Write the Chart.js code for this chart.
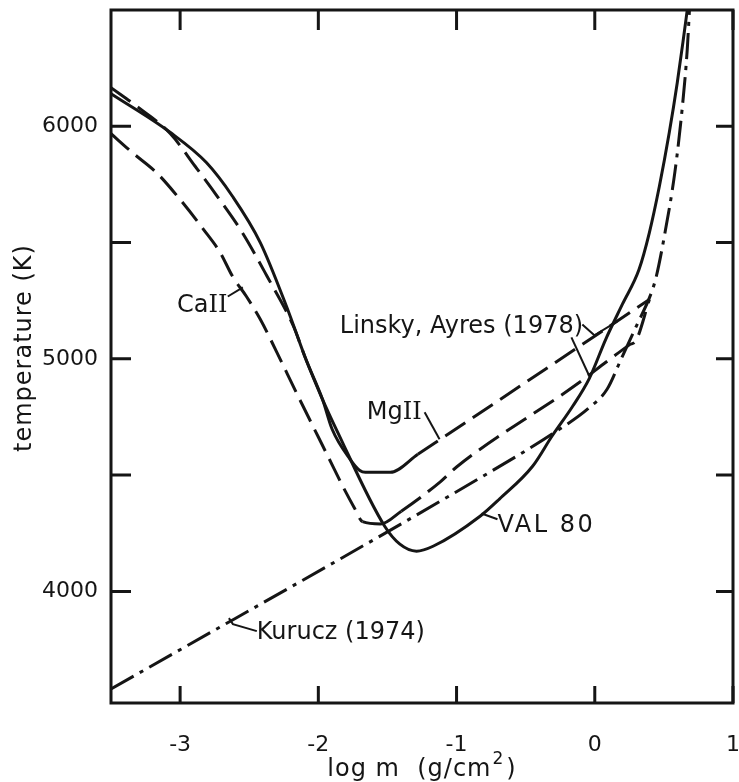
<!DOCTYPE html>
<html>
<head>
<meta charset="utf-8">
<script src="https://cdn.jsdelivr.net/npm/chart.js@4/dist/chart.umd.min.js"></script>
<style>
  html, body { margin: 0; padding: 0; background: #fff; }
  #wrap { width: 739px; height: 782px; position: relative; }
</style>
</head>
<body>
<div id="wrap"><canvas id="tempChart"></canvas></div>
<script>
// temperature vs column mass, four atmosphere models

// VAL 80 (solid)
const valLogM = [-3.5, -3.07, -2.81, -2.62, -2.42, -2.23, -2.09, -1.97, -1.87, -1.52, -1.41, -1.29, -1.17, -0.83, -0.69, -0.45, -0.31, -0.16, -0.04, 0.08, 0.2, 0.32, 0.395, 0.467, 0.539, 0.597, 0.647, 0.669];
const valTemp = [6140, 5973, 5844, 5698, 5500, 5225, 4998, 4826, 4697, 4280, 4203, 4173, 4194, 4323, 4397, 4538, 4667, 4796, 4915, 5085, 5235, 5384, 5543, 5741, 5973, 6188, 6402, 6500];

// Mg II model (Linsky & Ayres 1978)
const mgLogM = [-3.5, -3.3, -3.07, -2.89, -2.73, -2.55, -2.37, -2.18, -2.09, -1.97, -1.9, -1.77, -1.7, -1.66, -1.48, -1.28, 0.395];
const mgTemp = [6166, 6080, 5968, 5827, 5698, 5543, 5354, 5140, 4998, 4826, 4697, 4568, 4520, 4512, 4512, 4590, 5255];

// Ca II model (Linsky & Ayres 1978)
const caLogM = [-3.5, -3.34, -3.17, -3.0, -2.83, -2.71, -2.62, -2.52, -2.42, -2.3, -2.16, -1.92, -1.82, -1.74, -1.68, -1.55, -1.4, -1.12, -1.0, -0.11, 0.08, 0.25, 0.3, 0.395];
const caTemp = [5968, 5884, 5800, 5685, 5556, 5457, 5354, 5268, 5170, 5028, 4856, 4568, 4448, 4360, 4300, 4290, 4345, 4470, 4535, 4899, 4985, 5060, 5080, 5255];

// Kurucz (1974)
const kurLogM = [-3.5, -0.81, -0.3, -0.04, 0.09, 0.19, 0.3, 0.41, 0.445, 0.503, 0.58, 0.633, 0.669, 0.685];
const kurTemp = [3580, 4495, 4680, 4790, 4870, 4998, 5140, 5285, 5354, 5526, 5805, 6080, 6330, 6500];

const xTicks = [-3, -2, -1, 0, 1];
const yTicks = [4000, 4500, 5000, 5500, 6000];
const yLabelled = [4000, 5000, 6000];

const ink = '#151515';
const fontFamily = '"DejaVu Sans", sans-serif';
const romanFamily = '"DejaVu Serif", serif';

const pts = (xs, ys) => xs.map((v, i) => ({ x: v, y: ys[i] }));

// solid between lo and hi, dataset dash elsewhere
const solidBetween = (lo, hi) => c =>
  (c.p0.parsed.x >= lo - 1e-6 && c.p1.parsed.x <= hi + 1e-6) ? [] : undefined;

const dashed = [24, 9];
const dashDot = [26, 7, 4, 7];

// text labels with leader lines, in data units; parts = [text, roman?]
const notes = [
  { parts: [['Ca', false], ['II', true]], x: -3.023, y: 5230, lead: [[-2.655, 5268], [-2.546, 5307]] },
  { parts: [['Linsky, Ayres (1978)', false]], x: -1.845, y: 5140,
    lead: [[-0.09, 5148], [-0.003, 5101], [0.163, 5161]],
    lead2: [[-0.169, 5092], [-0.039, 4925]] },
  { parts: [['Mg', false], ['II', true]], x: -1.65, y: 4770, lead: [[-1.231, 4770], [-1.123, 4654]] },
  { parts: [['VAL 80', false]], x: -0.704, y: 4280, spacing: 2.5, lead: [[-0.704, 4310], [-0.819, 4335]] },
  { parts: [['Kurucz (1974)', false]], x: -2.445, y: 3821, lead: [[-2.445, 3829], [-2.618, 3859], [-2.647, 3885]] }
];

function polyline(ctx, x, y, list) {
  ctx.beginPath();
  list.forEach(([a, b], i) => {
    const px = x.getPixelForValue(a), py = y.getPixelForValue(b);
    if (i === 0) ctx.moveTo(px, py); else ctx.lineTo(px, py);
  });
  ctx.stroke();
}

const framePlugin = {
  id: 'frame',
  afterDraw(chart) {
    const { ctx, chartArea: a, scales: { x, y } } = chart;
    ctx.save();
    ctx.strokeStyle = ink;
    ctx.fillStyle = ink;
    ctx.lineCap = 'butt';

    // box
    ctx.lineWidth = 3;
    ctx.strokeRect(a.left, a.top, a.right - a.left, a.bottom - a.top);

    // inward ticks on all four sides
    xTicks.forEach(v => {
      const px = x.getPixelForValue(v);
      ctx.beginPath();
      ctx.moveTo(px, a.bottom); ctx.lineTo(px, a.bottom - 17);
      ctx.moveTo(px, a.top); ctx.lineTo(px, a.top + 20);
      ctx.stroke();
    });
    yTicks.forEach(v => {
      const py = y.getPixelForValue(v);
      ctx.beginPath();
      ctx.moveTo(a.left, py); ctx.lineTo(a.left + 20, py);
      ctx.moveTo(a.right, py); ctx.lineTo(a.right - 17, py);
      ctx.stroke();
    });

    // tick labels
    ctx.font = '22px ' + fontFamily;
    ctx.textBaseline = 'middle';
    ctx.textAlign = 'center';
    xTicks.forEach(v => ctx.fillText(String(v), x.getPixelForValue(v), a.bottom + 42));
    ctx.textAlign = 'right';
    yLabelled.forEach(v => ctx.fillText(String(v), a.left - 13, y.getPixelForValue(v)));

    // y axis title
    ctx.save();
    ctx.font = '24px ' + fontFamily;
    ctx.letterSpacing = '1px';
    ctx.translate(25, 348);
    ctx.rotate(-Math.PI / 2);
    ctx.textAlign = 'center';
    ctx.fillText('temperature (K)', 0, 0);
    ctx.restore();

    // curve labels
    ctx.lineWidth = 2;
    ctx.textAlign = 'left';
    notes.forEach(n => {
      let px = x.getPixelForValue(n.x);
      const py = y.getPixelForValue(n.y);
      ctx.letterSpacing = (n.spacing || 0) + 'px';
      n.parts.forEach(([t, roman]) => {
        ctx.font = roman ? '24px ' + romanFamily : '24px ' + fontFamily;
        ctx.fillText(t, px, py);
        px += ctx.measureText(t).width;
      });
      ctx.letterSpacing = '0px';
      polyline(ctx, x, y, n.lead);
      if (n.lead2) polyline(ctx, x, y, n.lead2);
    });

    // x axis title with superscript
    ctx.letterSpacing = '1px';
    ctx.font = '24px ' + fontFamily;
    const cx = (a.left + a.right) / 2;
    const ty = a.bottom + 67;
    const main = 'log m  (g/cm';
    const w1 = ctx.measureText(main).width;
    ctx.font = '17px ' + fontFamily;
    const w2 = ctx.measureText('2').width;
    ctx.font = '24px ' + fontFamily;
    const w3 = ctx.measureText(')').width;
    let sx = cx - (w1 + w2 + w3 + 3) / 2;
    ctx.fillText(main, sx, ty);
    sx += w1;
    ctx.font = '17px ' + fontFamily;
    ctx.fillText('2', sx + 1, ty - 10);
    sx += w2 + 3;
    ctx.font = '24px ' + fontFamily;
    ctx.fillText(')', sx, ty);

    ctx.restore();
  }
};

const lineDefaults = {
  borderColor: ink,
  borderWidth: 3,
  pointRadius: 0,
  fill: false,
  cubicInterpolationMode: 'monotone'
};

new Chart(document.getElementById('tempChart'), {
  type: 'line',
  data: {
    datasets: [
      { ...lineDefaults, label: 'VAL 80', data: pts(valLogM, valTemp) },
      { ...lineDefaults, label: 'MgII', data: pts(mgLogM, mgTemp),
        borderDash: dashed, segment: { borderDash: solidBetween(-2.12, -1.28) } },
      { ...lineDefaults, label: 'CaII', data: pts(caLogM, caTemp),
        borderDash: dashed, segment: { borderDash: solidBetween(-1.72, -1.4) } },
      { ...lineDefaults, label: 'Kurucz (1974)', data: pts(kurLogM, kurTemp),
        borderDash: dashDot }
    ]
  },
  options: {
    responsive: true,
    maintainAspectRatio: false,
    devicePixelRatio: 1,
    animation: false,
    layout: { padding: { top: 10, right: 6, left: 0, bottom: 0 } },
    plugins: { legend: { display: false }, tooltip: { enabled: false } },
    scales: {
      x: {
        type: 'linear',
        min: -3.5,
        max: 1,
        grid: { display: false, drawTicks: false },
        border: { display: false },
        ticks: { display: false },
        afterFit: s => { s.height = 79; }
      },
      y: {
        type: 'linear',
        min: 3520,
        max: 6500,
        grid: { display: false, drawTicks: false },
        border: { display: false },
        ticks: { display: false },
        afterFit: s => { s.width = 111; }
      }
    }
  },
  plugins: [framePlugin]
});
</script>
</body>
</html>
